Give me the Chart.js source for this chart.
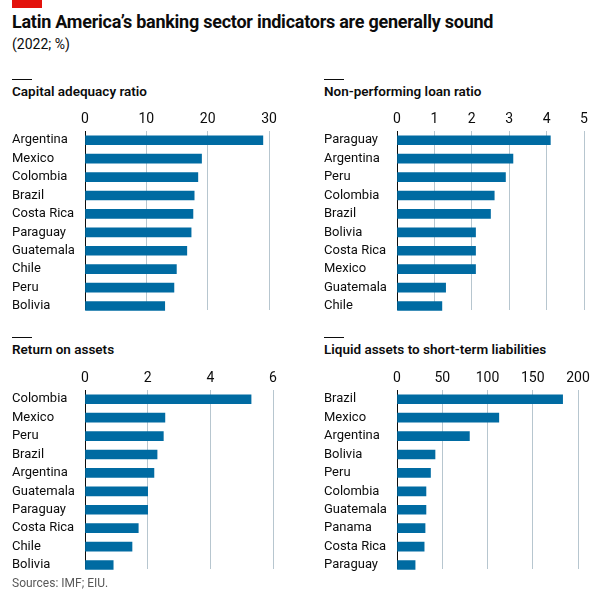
<!DOCTYPE html>
<html>
<head>
<meta charset="utf-8">
<script src="https://cdn.jsdelivr.net/npm/chart.js@4"></script>
<style>
  html, body { margin:0; padding:0; background:#fff; }
  body { width:600px; height:600px; position:relative; overflow:hidden; font-family: Roboto, "Noto Sans", sans-serif; }
  .abs { position:absolute; }
  #redbar { left:12px; top:0; width:30px; height:8px; background:#E3120B; }
  #title { left:12px; top:11px; font-size:18px; font-weight:700; color:#0C0C0C; letter-spacing:-0.25px; white-space:nowrap; }
  #subtitle { left:12px; top:36px; font-size:14px; color:#0C0C0C; }
  .rule { width:20px; height:1px; background:#0C0C0C; }
  .ptitle { font-size:13.5px; font-weight:600; color:#0C0C0C; white-space:nowrap; }
  #source { left:12px; top:576px; font-size:12px; color:#595959; }
  canvas { position:absolute; }
</style>
</head>
<body>
<div id="redbar" class="abs"></div>
<div id="title" class="abs">Latin America’s banking sector indicators are generally sound</div>
<div id="subtitle" class="abs">(2022; %)</div>

<div class="abs rule" style="left:12px;top:79px"></div>
<div class="abs ptitle" style="left:12px;top:83px">Capital adequacy ratio</div>
<div class="abs rule" style="left:324px;top:79px"></div>
<div class="abs ptitle" style="left:324px;top:83px">Non-performing loan ratio</div>
<div class="abs rule" style="left:12px;top:337px"></div>
<div class="abs ptitle" style="left:12px;top:341px">Return on assets</div>
<div class="abs rule" style="left:324px;top:337px"></div>
<div class="abs ptitle" style="left:324px;top:341px">Liquid assets to short-term liabilities</div>

<canvas id="c1" style="left:12px;top:110px" width="277" height="213"></canvas>
<canvas id="c2" style="left:324px;top:110px" width="280" height="213"></canvas>
<canvas id="c3" style="left:12px;top:369px" width="281" height="213"></canvas>
<canvas id="c4" style="left:324px;top:369px" width="274" height="213"></canvas>

<div id="source" class="abs">Sources: IMF; EIU.</div>

<script>
// ---- Data ----
const capCountries = ["Argentina","Mexico","Colombia","Brazil","Costa Rica","Paraguay","Guatemala","Chile","Peru","Bolivia"];
const capValues    = [29.0, 19.0, 18.4, 17.8, 17.6, 17.3, 16.6, 14.9, 14.5, 13.0];
const capTicks     = [0, 10, 20, 30];

const nplCountries = ["Paraguay","Argentina","Peru","Colombia","Brazil","Bolivia","Costa Rica","Mexico","Guatemala","Chile"];
const nplValues    = [4.1, 3.1, 2.9, 2.6, 2.5, 2.1, 2.1, 2.1, 1.3, 1.2];
const nplTicks     = [0, 1, 2, 3, 4, 5];

const roaCountries = ["Colombia","Mexico","Peru","Brazil","Argentina","Guatemala","Paraguay","Costa Rica","Chile","Bolivia"];
const roaValues    = [5.3, 2.55, 2.5, 2.3, 2.2, 2.0, 2.0, 1.7, 1.5, 0.9];
const roaTicks     = [0, 2, 4, 6];

const liqCountries = ["Brazil","Mexico","Argentina","Bolivia","Peru","Colombia","Guatemala","Panama","Costa Rica","Paraguay"];
const liqValues    = [183, 112.5, 80, 42, 37, 32, 32, 31, 30, 20];
const liqTicks     = [0, 50, 100, 150, 200];

const BAR = "#006BA2";
const GRID = "#B7C6CF";
const FONT = "Roboto, 'Noto Sans', sans-serif";
const BAR_THICK = 9;

// Ends the grid lines and zero line at the bottom of the last bar (as in the original)
const trimGrid = {
  id: "trimGrid",
  beforeDatasetsDraw(chart) {
    const y = chart.scales.y;
    const ca = chart.chartArea;
    const endY = Math.round(y.getPixelForValue(y.max) + BAR_THICK / 2);
    const ctx = chart.ctx;
    ctx.save();
    ctx.fillStyle = "#ffffff";
    ctx.fillRect(ca.left - 2, endY, ca.right - ca.left + 4, chart.height - endY);
    ctx.restore();
  }
};

function makeChart(id, labels, values, ticks, rightPad) {
  const max = ticks[ticks.length - 1];
  const step = ticks[1] - ticks[0];
  new Chart(document.getElementById(id), {
    type: "bar",
    data: { labels: labels, datasets: [{ data: values, backgroundColor: BAR, barThickness: BAR_THICK, borderWidth: 0 }] },
    plugins: [trimGrid],
    options: {
      indexAxis: "y",
      responsive: false,
      animation: false,
      devicePixelRatio: 1,
      layout: { padding: { left: 0, right: rightPad, top: 0, bottom: 2 } },
      plugins: { legend: { display: false }, tooltip: { enabled: false } },
      scales: {
        x: {
          position: "top",
          min: 0, max: max,
          afterBuildTicks: s => { s.ticks = ticks.map(v => ({ value: v })); },
          ticks: { stepSize: step, padding: 3, color: "#0C0C0C", font: { family: FONT, size: 14 } },
          grid: { color: GRID, lineWidth: 1, drawTicks: false },
          border: { display: false },
          afterFit: s => { s.height = 21; }
        },
        y: {
          ticks: { autoSkip: false, crossAlign: "far", padding: 0, color: "#0C0C0C", font: { family: FONT, size: 13 } },
          grid: { display: false, drawTicks: false },
          border: { display: true, color: "#0C0C0C", width: 1 },
          afterFit: s => { s.width = 73; }
        }
      }
    }
  });
}

makeChart("c1", capCountries, capValues, capTicks, 20);
makeChart("c2", nplCountries, nplValues, nplTicks, 20);
makeChart("c3", roaCountries, roaValues, roaTicks, 20);
makeChart("c4", liqCountries, liqValues, liqTicks, 20);
</script>
</body>
</html>
